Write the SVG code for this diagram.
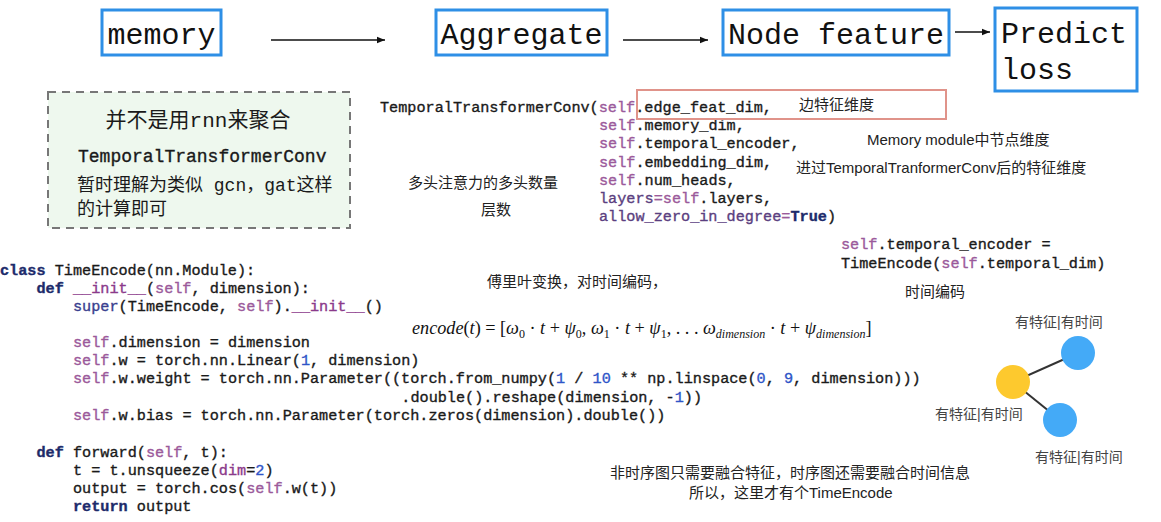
<svg xmlns="http://www.w3.org/2000/svg" width="1161" height="522" viewBox="0 0 1161 522">
<defs>
<marker id="ah" viewBox="0 0 10 10" refX="10" refY="5" markerWidth="8" markerHeight="8" markerUnits="userSpaceOnUse" orient="auto">
<path d="M0,1 L10,5 L0,9 z" fill="#111"/>
</marker>
<style>
.bx{fill:#fff;stroke:#2e8fe6;stroke-width:3}
.bt{font-family:"Liberation Mono","DejaVu Sans Mono",monospace;font-size:30px;fill:#111}
.code{font-family:"Liberation Mono","Noto Sans CJK SC",monospace;font-size:15.2px;fill:#1a1a1a;stroke:#1a1a1a;stroke-width:0.35px}
.s{fill:#9b5a9b;stroke:#9b5a9b}
.k{fill:#1d2b6b;stroke:#1d2b6b;font-weight:bold}
.n{fill:#2f55c8;stroke:#2f55c8}
.p{fill:#5b3f80;stroke:#5b3f80}
.d{fill:#8b3a8b;stroke:#8b3a8b}
.b{fill:#3a3f8f;stroke:#3a3f8f}
.note{font-family:"Liberation Sans","Noto Sans CJK SC",sans-serif;font-size:15px;fill:#222}
.lbl{font-family:"Liberation Sans","Noto Sans CJK SC",sans-serif;font-size:14px;fill:#444}
.g{font-family:"Liberation Mono","Noto Sans CJK SC",monospace;fill:#1a1a1a}
.conn{stroke:#111;stroke-width:1.6;fill:none}
.edge{stroke:#333;stroke-width:2}
</style>
</defs>
<rect width="1161" height="522" fill="#fff"/>

<g id="memory">
<rect class="bx" x="102" y="10" width="119" height="45"/>
<text class="bt" x="161.5" y="44" text-anchor="middle">memory</text>
</g>
<g id="aggregate">
<rect class="bx" x="436" y="10" width="171" height="45"/>
<text class="bt" x="521.5" y="44" text-anchor="middle">Aggregate</text>
</g>
<g id="node-feature">
<rect class="bx" x="723" y="10" width="226" height="45"/>
<text class="bt" x="836" y="44" text-anchor="middle">Node feature</text>
</g>
<g id="predict-loss">
<rect class="bx" x="995" y="8" width="142" height="83"/>
<text class="bt" x="1001" y="43">Predict</text>
<text class="bt" x="1001" y="79">loss</text>
</g>

<g id="connectors">
<line class="conn" x1="271" y1="40" x2="385" y2="40" marker-end="url(#ah)"/>
<line class="conn" x1="623" y1="40" x2="708" y2="40" marker-end="url(#ah)"/>
<line class="conn" x1="955" y1="32" x2="990" y2="32" marker-end="url(#ah)"/>
</g>

<g id="note-box">
<rect x="48" y="92" width="302" height="136" fill="#eef8ee" stroke="#777" stroke-width="2" stroke-dasharray="8 6"/>
<text class="g" x="198" y="127" font-size="21" text-anchor="middle">并不是用rnn来聚合</text>
<text class="g" x="78" y="162" font-size="18" stroke="#1a1a1a" stroke-width="0.35">TemporalTransformerConv</text>
<text class="g" x="77" y="191" font-size="18">暂时理解为类似 gcn，gat这样</text>
<text class="g" x="77" y="215" font-size="18">的计算即可</text>
</g>

<g id="ttc-code" class="code">
<text x="380" y="112">TemporalTransformerConv(<tspan class="s">self</tspan>.edge_feat_dim,</text>
<text x="599" y="130"><tspan class="s">self</tspan>.memory_dim,</text>
<text x="599" y="148"><tspan class="s">self</tspan>.temporal_encoder,</text>
<text x="599" y="167"><tspan class="s">self</tspan>.embedding_dim,</text>
<text x="599" y="185"><tspan class="s">self</tspan>.num_heads,</text>
<text x="599" y="203"><tspan class="p">layers</tspan><tspan class="s">=self</tspan>.layers,</text>
<text x="599" y="221"><tspan class="p">allow_zero_in_degree</tspan><tspan class="s">=</tspan><tspan class="k">True</tspan>)</text>
</g>

<g id="edge-feat-label">
<rect x="637" y="90" width="309" height="29" fill="none" stroke="#e0938a" stroke-width="2"/>
<text class="note" x="799" y="110">边特征维度</text>
</g>
<text class="note" x="867" y="145">Memory module中节点维度</text>
<text class="note" x="796" y="173">进过TemporalTranformerConv后的特征维度</text>
<text class="note" x="408" y="188">多头注意力的多头数量</text>
<text class="note" x="481" y="215">层数</text>

<g id="encoder-assign" class="code">
<text x="841" y="249"><tspan class="s">self</tspan>.temporal_encoder =</text>
<text x="841" y="268">TimeEncode(<tspan class="s">self</tspan>.temporal_dim)</text>
</g>
<text class="note" x="905" y="297">时间编码</text>

<g id="timeencode-code" class="code">
<text x="0" y="275"><tspan class="k">class</tspan> TimeEncode(nn.Module):</text>
<text x="36.5" y="293"><tspan class="k">def</tspan> <tspan class="d">__init__</tspan>(<tspan class="s">self</tspan>, dimension):</text>
<text x="73" y="311"><tspan class="b">super</tspan>(TimeEncode, <tspan class="s">self</tspan>).<tspan class="d">__init__</tspan>()</text>
<text x="73" y="347"><tspan class="s">self</tspan>.dimension = dimension</text>
<text x="73" y="365"><tspan class="s">self</tspan>.w = torch.nn.Linear(<tspan class="n">1</tspan>, dimension)</text>
<text x="73" y="383"><tspan class="s">self</tspan>.w.weight = torch.nn.Parameter((torch.from_numpy(<tspan class="n">1</tspan> / <tspan class="n">10</tspan> ** np.linspace(<tspan class="n">0</tspan>, <tspan class="n">9</tspan>, dimension)))</text>
<text x="401.3" y="402">.double().reshape(dimension, -<tspan class="n">1</tspan>))</text>
<text x="73" y="420"><tspan class="s">self</tspan>.w.bias = torch.nn.Parameter(torch.zeros(dimension).double())</text>
<text x="36.5" y="457"><tspan class="k">def</tspan> forward(<tspan class="s">self</tspan>, t):</text>
<text x="73" y="475">t = t.unsqueeze(<tspan class="d">dim</tspan>=<tspan class="n">2</tspan>)</text>
<text x="73" y="493">output = torch.cos(<tspan class="s">self</tspan>.w(t))</text>
<text x="73" y="511"><tspan class="k">return</tspan> output</text>
</g>

<text class="note" x="487" y="287">傅里叶变换，对时间编码，</text>
<text x="412" y="334" font-family="Liberation Serif,serif" font-size="18.2" fill="#111"><tspan font-style="italic">encode</tspan>(<tspan font-style="italic">t</tspan>) = [<tspan font-style="italic">ω</tspan><tspan font-size="12" dy="4">0</tspan><tspan dy="-4"> · </tspan><tspan font-style="italic">t</tspan> + <tspan font-style="italic">ψ</tspan><tspan font-size="12" dy="4">0</tspan><tspan dy="-4">, </tspan><tspan font-style="italic">ω</tspan><tspan font-size="12" dy="4">1</tspan><tspan dy="-4"> · </tspan><tspan font-style="italic">t</tspan> + <tspan font-style="italic">ψ</tspan><tspan font-size="12" dy="4">1</tspan><tspan dy="-4">, . . . </tspan><tspan font-style="italic">ω</tspan><tspan font-size="12" font-style="italic" dy="4">dimension</tspan><tspan dy="-4"> · </tspan><tspan font-style="italic">t</tspan> + <tspan font-style="italic">ψ</tspan><tspan font-size="12" font-style="italic" dy="4">dimension</tspan><tspan dy="-4">]</tspan></text>

<g id="graph-edges">
<line class="edge" x1="1013" y1="382" x2="1078" y2="353"/>
<line class="edge" x1="1013" y1="382" x2="1060" y2="420"/>
</g>
<g id="node-center">
<circle cx="1013" cy="382" r="17" fill="#fdc92e"/>
<text class="lbl" x="935" y="419">有特征|有时间</text>
</g>
<g id="node-top">
<circle cx="1078" cy="353" r="17" fill="#44aaf7"/>
<text class="lbl" x="1015" y="327">有特征|有时间</text>
</g>
<g id="node-bottom">
<circle cx="1060" cy="420" r="17" fill="#44aaf7"/>
<text class="lbl" x="1035" y="462">有特征|有时间</text>
</g>

<text class="note" x="610" y="478">非时序图只需要融合特征，时序图还需要融合时间信息</text>
<text class="note" x="689" y="498">所以，这里才有个TimeEncode</text>
</svg>
